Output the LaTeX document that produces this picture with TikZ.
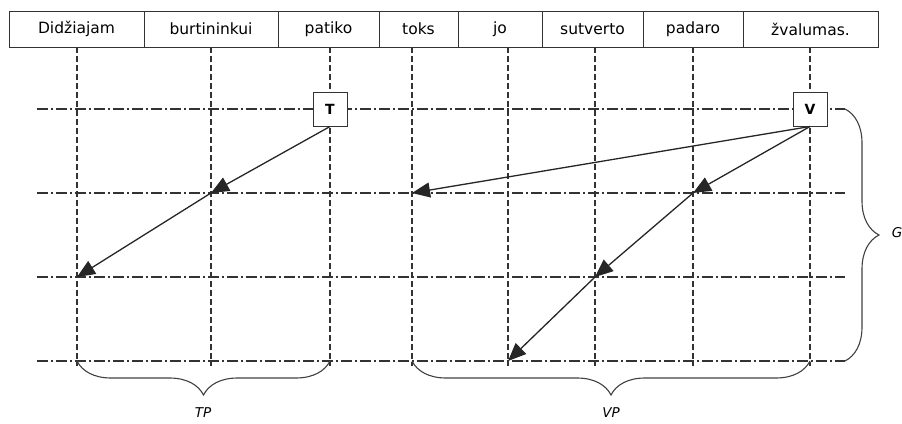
\documentclass[tikz,border=0pt]{standalone}
\usepackage{fontspec}
\setmainfont{DejaVu Sans}
\usetikzlibrary{positioning,arrows.meta,decorations.pathreplacing}

\begin{document}
\begin{tikzpicture}[
  x=1pt, y=-1pt,
  cell/.style={draw=black!80, line width=1pt, minimum height=36pt, inner sep=0pt, outer sep=0pt, font=\fontsize{15.5}{17}\selectfont},
  head/.style={draw=black!80, line width=1pt, fill=white, minimum size=34pt, inner sep=0pt, font=\bfseries\fontsize{14}{16}\selectfont},
  vgrid/.style={black!80, line width=1.1pt, dash pattern=on 6pt off 3pt},
  hgrid/.style={black!80, line width=1.1pt, dash pattern=on 11pt off 3pt on 2pt off 3pt},
  arr/.style={-{Triangle[length=18pt,width=15pt]}, black!85, line width=1.3pt},
  brc/.style={decorate, decoration={brace, amplitude=34pt}, black!75, line width=1.1pt},
  lbl/.style={font=\itshape\fontsize{13.5}{15}\selectfont}
]
\useasboundingbox (0,0) rectangle (902,423);

% the sentence, one cell per word
\node[cell, minimum width=135pt] (didz) at (76.5,29) {Didžiajam};
\node[cell, minimum width=134pt, right=0pt of didz] (burt) {burtininkui};
\node[cell, minimum width=101pt, right=0pt of burt] (pati) {patiko};
\node[cell, minimum width=79pt, right=0pt of pati] (toks) {toks};
\node[cell, minimum width=84pt, right=0pt of toks] (jo) {jo};
\node[cell, minimum width=101pt, right=0pt of jo] (sutv) {sutverto};
\node[cell, minimum width=100pt, right=0pt of sutv] (pada) {padaro};
\node[cell, minimum width=135pt, right=0pt of pada] (zval) {žvalumas.};

% grid positions
\foreach \x [count=\i] in {77,211,330,412,508,595,693,810}
  \coordinate (c\i) at (\x,0);
\foreach \y [count=\j] in {109,193,277,361}
  \coordinate (r\j) at (0,\y);
\coordinate (gl) at (37,0);
\coordinate (gr) at (845,0);
\coordinate (gb) at (0,366);

\foreach \i in {1,...,8}
  \draw[vgrid] (c\i |- didz.south) -- (c\i |- gb);
\foreach \j in {1,...,4}
  \draw[hgrid] (gl |- r\j) -- (gr |- r\j);

\node[head] (T) at (c3 |- r1) {T};
\node[head] (V) at (c8 |- r1) {V};

\draw[arr] (T.south) -- (c2 |- r2);
\draw[arr] (c2 |- r2) -- (c1 |- r3);
\draw[arr] (V.south) -- (c4 |- r2);
\draw[arr] (V.south) -- (c7 |- r2);
\draw[arr] (c7 |- r2) -- (c6 |- r3);
\draw[arr] (c6 |- r3) -- (c5 |- r4);

% braces
\draw[brc] (gr |- r1) -- (gr |- r4);
\draw[brc, decoration={mirror}] (c1 |- r4) -- (c3 |- r4);
\draw[brc, decoration={mirror}] (c4 |- r4) -- (c8 |- r4);
\node[lbl] (G) at (897,233) {G};
\node[lbl] (TP) at (203,413) {TP};
\node[lbl] (VP) at (611,413) {VP};
\end{tikzpicture}
\end{document}
